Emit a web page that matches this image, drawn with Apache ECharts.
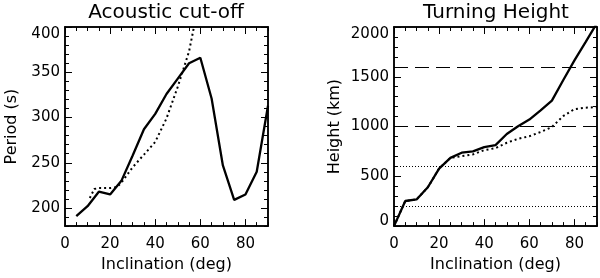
<!DOCTYPE html>
<html>
<head>
<meta charset="utf-8">
<script src="https://cdn.jsdelivr.net/npm/echarts@6/dist/echarts.min.js"></script>
<style>
html,body{margin:0;padding:0;background:#fff;}
#c{width:600px;height:278px;}
</style>
</head>
<body>
<div id="c"></div>
<script>
// ---- data ----
const xTicks = [0, 20, 40, 60, 80];
const leftYTicks = [200, 250, 300, 350, 400];
const rightYTicks = [0, 500, 1000, 1500, 2000];

const inclA = [5, 10, 15, 20, 25, 30, 35, 40, 45, 50, 55, 60, 65, 70, 75, 80, 85, 90];
const periodSolid = [191, 202, 218, 215, 230, 258, 287, 304, 326, 343, 360, 366, 321, 247, 209, 215, 240, 313];

const inclDotA = [11, 13, 15, 20, 23, 25, 30, 35, 40, 45, 50, 55, 57.5];
const periodDotted = [211, 221, 222, 222, 223, 228, 245, 259, 273, 299, 334, 373, 404];

const inclB = [0, 5, 10, 15, 20, 25, 30, 35, 40, 45, 50, 55, 60, 65, 70, 75, 80, 85, 90];
const heightSolid = [0, 252, 268, 390, 578, 685, 737, 750, 793, 813, 925, 1003, 1070, 1162, 1260, 1465, 1665, 1850, 2040];
const heightDotted = [0, 252, 268, 390, 578, 685, 703, 720, 763, 783, 837, 877, 903, 945, 995, 1105, 1175, 1190, 1195];

const refDashed = [1000, 1600];
const refDotted = [200, 600];

const titles = ['Acoustic cut-off', 'Turning Height'];
const xName = 'Inclination (deg)';
const yNames = ['Period (s)', 'Height (km)'];

// ---- helpers ----
const FONT = 'DejaVu Sans';
const black = '#000';
function pairs(xs, ys) { return xs.map((x, i) => [x, ys[i]]); }
function plain(v) { return String(v); }
function plainLiftZero(v) { return v === 0 ? '{z|0}' : String(v); }

const grids = [
  {left: 65, right: 332, top: 27, bottom: 51},
  {left: 394, right: 3, top: 27, bottom: 51}
];

const xAxes = [], yAxes = [];
function addX(gi, position, major, withLabel) {
  const ax = {
    type: 'value', gridIndex: gi, position: position, min: 0, max: 90,
    interval: major ? 20 : 5,
    axisLine: {show: true, onZero: false, lineStyle: {color: black, width: 1.5}},
    splitLine: {show: false},
    axisTick: {show: true, inside: true, length: major ? 7 : 4, lineStyle: {color: black, width: 1}},
    axisLabel: {show: false}
  };
  if (major) {
    ax.axisTick.customValues = xTicks;
    ax.axisLabel = {show: withLabel, customValues: xTicks, formatter: plain, color: black, fontFamily: FONT, fontSize: 15, margin: 11};
  }
  if (withLabel) {
    ax.name = xName; ax.nameLocation = 'middle'; ax.nameGap = 28;
    ax.nameTextStyle = {color: black, fontFamily: FONT, fontSize: 16};
  }
  xAxes.push(ax);
}
function addY(gi, position, major, withLabel) {
  const left = gi === 0;
  const ax = {
    type: 'value', gridIndex: gi, position: position,
    min: left ? 180 : 0, max: left ? 400 : 2000,
    interval: major ? (left ? 10 : 500) : (left ? 10 : 100),
    axisLine: {show: true, onZero: false, lineStyle: {color: black, width: 1.5}},
    splitLine: {show: false},
    axisTick: {show: true, inside: true, length: major ? 7 : 4, lineStyle: {color: black, width: 1}},
    axisLabel: {show: false}
  };
  if (major) {
    const t = left ? leftYTicks : rightYTicks;
    ax.axisTick.customValues = t;
    ax.axisLabel = {show: withLabel, customValues: t, formatter: left ? plain : plainLiftZero,
      color: black, fontFamily: FONT, fontSize: 15, margin: 5,
      verticalAlignMaxLabel: 'top',
      rich: {z: {color: black, fontFamily: FONT, fontSize: 15, padding: [0, 0, 9, 0]}}};
  }
  if (withLabel) {
    ax.name = yNames[gi]; ax.nameLocation = 'middle'; ax.nameGap = left ? 45 : 51;
    ax.nameTextStyle = {color: black, fontFamily: FONT, fontSize: 16};
  }
  yAxes.push(ax);
}
for (let g = 0; g < 2; g++) {
  addX(g, 'bottom', true, true);
  addX(g, 'bottom', false, false);
  addX(g, 'top', true, false);
  addX(g, 'top', false, false);
  addY(g, 'left', true, true);
  addY(g, 'left', false, false);
  addY(g, 'right', true, false);
  addY(g, 'right', false, false);
}

const solidStyle = {color: black, width: 2.3, type: 'solid'};
const dotStyle = {color: black, width: 2, type: [2, 3]};

const series = [
  {type: 'line', xAxisIndex: 0, yAxisIndex: 0, data: pairs(inclA, periodSolid), showSymbol: false, lineStyle: solidStyle, z: 5},
  {type: 'line', xAxisIndex: 0, yAxisIndex: 0, data: pairs(inclDotA, periodDotted), showSymbol: false, lineStyle: dotStyle, z: 4},
  {type: 'line', xAxisIndex: 4, yAxisIndex: 4, data: pairs(inclB, heightSolid), showSymbol: false, lineStyle: solidStyle, z: 5,
    markLine: {silent: true, symbol: 'none', label: {show: false},
      lineStyle: {color: black, width: 1, type: [14, 7]},
      data: refDashed.map(v => ({yAxis: v}))}},
  {type: 'line', xAxisIndex: 4, yAxisIndex: 4, data: pairs(inclB, heightDotted), showSymbol: false, lineStyle: dotStyle, z: 4,
    markLine: {silent: true, symbol: 'none', label: {show: false},
      lineStyle: {color: black, width: 1, type: [1, 2]},
      data: refDotted.map(v => ({yAxis: v}))}}
];

const chart = echarts.init(document.getElementById('c'), null, {renderer: 'canvas'});
chart.setOption({
  animation: false,
  backgroundColor: '#fff',
  title: [
    {text: titles[0], left: 166, top: 3, textAlign: 'center', padding: 0,
      textStyle: {color: black, fontFamily: FONT, fontSize: 20, fontWeight: 'normal'}},
    {text: titles[1], left: 496, top: 3, textAlign: 'center', padding: 0,
      textStyle: {color: black, fontFamily: FONT, fontSize: 20, fontWeight: 'normal'}}
  ],
  grid: grids,
  xAxis: xAxes,
  yAxis: yAxes,
  series: series
});
</script>
</body>
</html>
